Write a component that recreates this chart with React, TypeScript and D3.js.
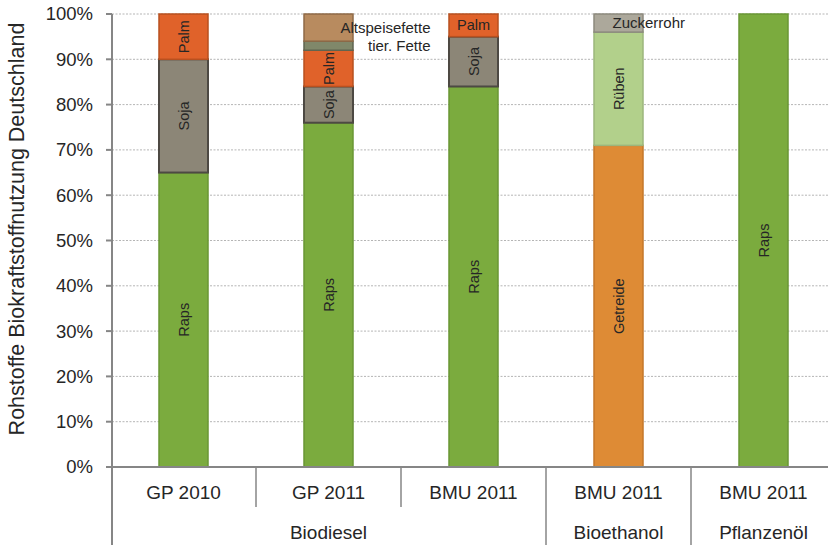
import React from "react";
import * as d3 from "d3";

const categories = ["GP 2010", "GP 2011", "BMU 2011", "BMU 2011", "BMU 2011"];
const groups = ["Biodiesel", "Biodiesel", "Biodiesel", "Bioethanol", "Pflanzenöl"];

const raps = [65, 76, 84, 0, 100];
const getreide = [0, 0, 0, 71, 0];
const soja = [25, 8, 11, 0, 0];
const rueben = [0, 0, 0, 25, 0];
const palm = [10, 8, 5, 0, 0];
const zuckerrohr = [0, 0, 0, 4, 0];
const tierFette = [0, 2, 0, 0, 0];
const altspeisefette = [0, 6, 0, 0, 0];

const yTicks = [0, 10, 20, 30, 40, 50, 60, 70, 80, 90, 100];
const yTitle = "Rohstoffe Biokraftstoffnutzung Deutschland";

type Mode = "rot" | "hor" | "zuck" | "right" | "none";
const series: { name: string; values: number[]; fill: string; stroke: string; sw: number; modes: Mode[] }[] = [
  { name: "Raps", values: raps, fill: "#7bab3e", stroke: "#6a9734", sw: 1.5, modes: ["rot", "rot", "rot", "none", "rot"] },
  { name: "Getreide", values: getreide, fill: "#de8b35", stroke: "#c4772a", sw: 1.5, modes: ["none", "none", "none", "rot", "none"] },
  { name: "Soja", values: soja, fill: "#8c8677", stroke: "#4d4943", sw: 2, modes: ["rot", "rot", "rot", "none", "none"] },
  { name: "Rüben", values: rueben, fill: "#b2d08b", stroke: "#9cb67c", sw: 1.5, modes: ["none", "none", "none", "rot", "none"] },
  { name: "Palm", values: palm, fill: "#e0622a", stroke: "#b8501f", sw: 1.5, modes: ["rot", "rot", "hor", "none", "none"] },
  { name: "Zuckerrohr", values: zuckerrohr, fill: "#aca89b", stroke: "#8c897e", sw: 1.5, modes: ["none", "none", "none", "zuck", "none"] },
  { name: "tier. Fette", values: tierFette, fill: "#80886a", stroke: "#5f6450", sw: 1.5, modes: ["none", "right", "none", "none", "none"] },
  { name: "Altspeisefette", values: altspeisefette, fill: "#b88b5f", stroke: "#8e6a47", sw: 1.5, modes: ["none", "right", "none", "none", "none"] },
];

const W = 828;
const H = 545;
const left = 112;
const top = 14;
const bottom = 467;
const barW = 49;

export default function App() {
  const x = d3.scaleBand<number>().domain(d3.range(categories.length)).range([left - 1, left - 1 + 145 * 5]).padding(0);
  const y = d3.scaleLinear().domain([0, 100]).range([bottom, top]);

  const keys = series.map((s) => s.name);
  const table = categories.map((_, i) => {
    const row: Record<string, number> = {};
    series.forEach((s) => (row[s.name] = s.values[i]));
    return row;
  });
  const stacked = d3.stack<Record<string, number>>().keys(keys)(table);

  const font = "'Liberation Sans', Arial, sans-serif";
  const txt = "#262626";

  const groupSpans: { name: string; start: number; end: number }[] = [];
  groups.forEach((g, i) => {
    const last = groupSpans[groupSpans.length - 1];
    if (last && last.name === g) last.end = i;
    else groupSpans.push({ name: g, start: i, end: i });
  });

  return (
    <svg width={W} height={H} style={{ position: "fixed", left: 0, top: 0, background: "#fff" }} fontFamily={font}>
      {yTicks.map((t) => (
        <line key={"g" + t} x1={left} x2={W} y1={y(t)} y2={y(t)} stroke="#b5b5b5" strokeWidth={1} strokeDasharray="2,1.5" />
      ))}
      {stacked.map((layer, si) =>
        layer.map((d, ci) => {
          const v = d[1] - d[0];
          if (v <= 0) return null;
          const s = series[si];
          const cx = (x(ci) as number) + x.bandwidth() / 2;
          const y0 = y(d[0]);
          const y1 = y(d[1]);
          const mode = s.modes[ci];
          const cy = (y0 + y1) / 2;
          let label: React.ReactNode = null;
          if (mode === "rot") {
            label = (
              <text transform={`translate(${cx},${cy}) rotate(-90)`} textAnchor="middle" dy="0.35em" fontSize={14.5} fill={txt}>
                {s.name}
              </text>
            );
          } else if (mode === "hor") {
            label = (
              <text x={cx} y={cy} textAnchor="middle" dy="0.35em" fontSize={14.5} fill={txt}>
                {s.name}
              </text>
            );
          } else if (mode === "zuck") {
            label = (
              <text x={cx - 6} y={cy} textAnchor="start" dy="0.35em" fontSize={15} fill={txt}>
                {s.name}
              </text>
            );
          } else if (mode === "right") {
            label = (
              <text x={cx + 102} y={cy} textAnchor="end" dy="0.35em" fontSize={15} fill={txt}>
                {s.name}
              </text>
            );
          }
          return (
            <g key={s.name + ci}>
              <rect
                x={cx - barW / 2}
                y={y1}
                width={barW}
                height={y0 - y1}
                fill={s.fill}
                stroke={s.stroke}
                strokeWidth={s.sw}
              />
              {label}
            </g>
          );
        })
      )}
      <line x1={left} x2={left} y1={top} y2={H} stroke="#868686" strokeWidth={2} />
      {yTicks.map((t) => (
        <g key={"t" + t}>
          <line x1={left - 6} x2={left} y1={y(t)} y2={y(t)} stroke="#868686" strokeWidth={2} />
          <text x={93} y={y(t)} dy="0.35em" textAnchor="end" fontSize={18.5} fill={txt}>
            {t}%
          </text>
        </g>
      ))}
      <text transform={`translate(24,${229}) rotate(-90)`} textAnchor="middle" fontSize={21.5} fill={txt}>
        {yTitle}
      </text>
      <line x1={left} x2={W} y1={bottom} y2={bottom} stroke="#868686" strokeWidth={2} />
      {categories.map((c, i) => (
        <text key={"c" + i} x={(x(i) as number) + x.bandwidth() / 2} y={499} textAnchor="middle" fontSize={19} fill={txt}>
          {c}
        </text>
      ))}
      {categories.map((_, i) => {
        if (i === 0) return null;
        const isGroupEdge = groups[i] !== groups[i - 1];
        const xx = x(i) as number;
        return <line key={"s" + i} x1={xx} x2={xx} y1={bottom} y2={isGroupEdge ? H : 507} stroke="#868686" strokeWidth={1.5} />;
      })}
      {groupSpans.map((g) => {
        const x0 = x(g.start) as number;
        const x1 = (x(g.end) as number) + x.bandwidth();
        return (
          <text key={"gr" + g.name} x={(x0 + x1) / 2} y={539} textAnchor="middle" fontSize={19} fill={txt}>
            {g.name}
          </text>
        );
      })}
    </svg>
  );
}
